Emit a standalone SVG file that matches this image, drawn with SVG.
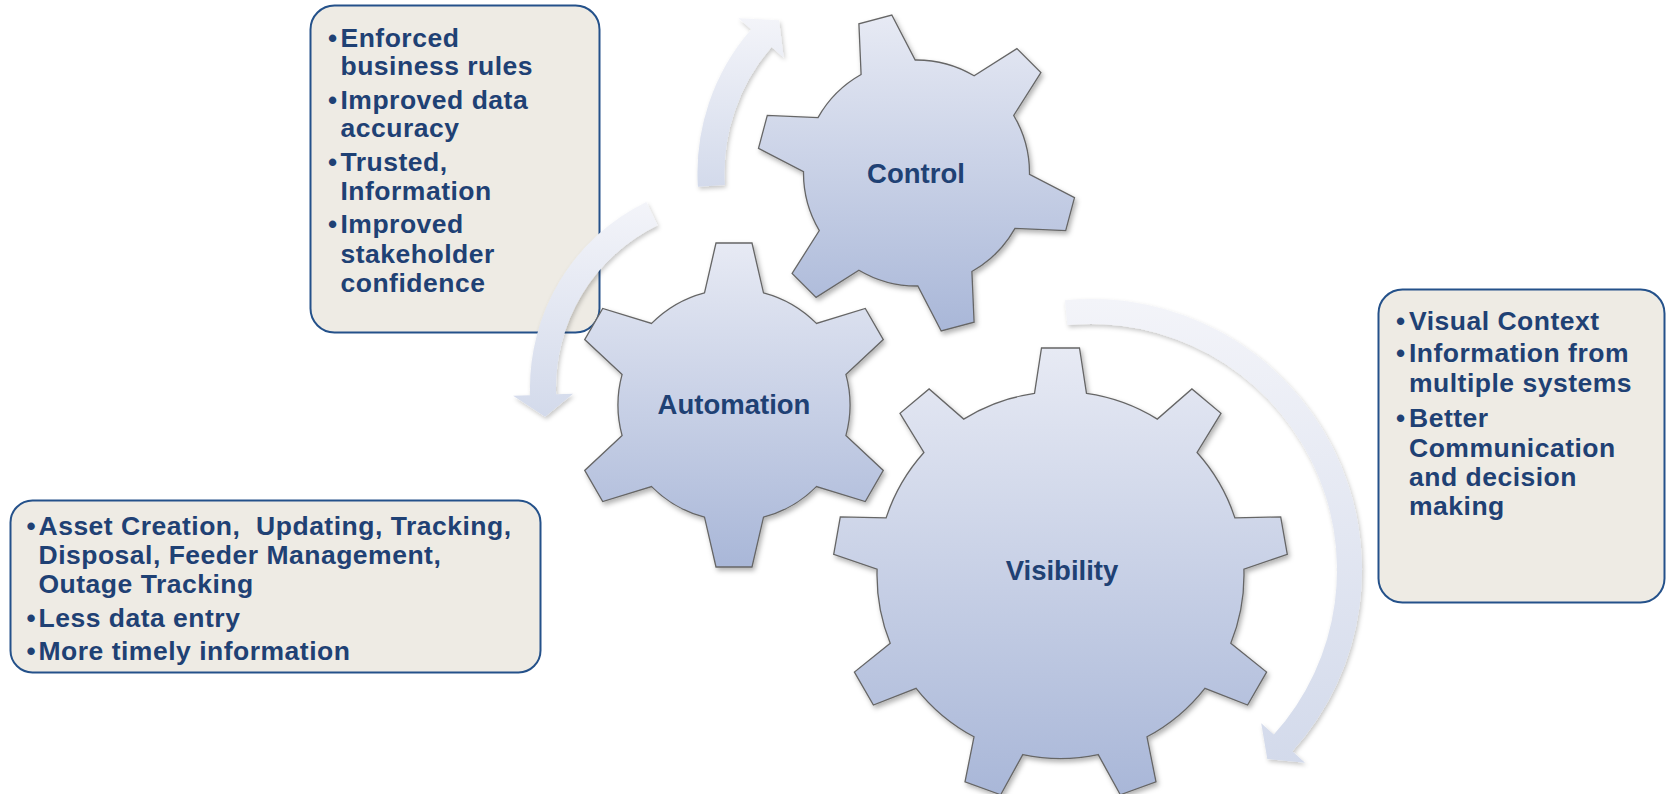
<svg xmlns="http://www.w3.org/2000/svg" width="1667" height="794" viewBox="0 0 1667 794">
<defs>
  <linearGradient id="gearFill" x1="0" y1="0" x2="0" y2="1">
    <stop offset="0" stop-color="#e7eaf4"/>
    <stop offset="1" stop-color="#a9b7d8"/>
  </linearGradient>
  <linearGradient id="arrowFill" x1="0" y1="0" x2="0" y2="1">
    <stop offset="0" stop-color="#f3f4f9"/>
    <stop offset="1" stop-color="#d3daeb"/>
  </linearGradient>
  <filter id="gearShadow" x="-10%" y="-10%" width="125%" height="125%">
    <feDropShadow dx="2" dy="3" stdDeviation="2.5" flood-color="#000" flood-opacity="0.3"/>
  </filter>
  <filter id="arrowShadow" x="-10%" y="-10%" width="125%" height="125%">
    <feDropShadow dx="1.5" dy="2.5" stdDeviation="2" flood-color="#000" flood-opacity="0.22"/>
  </filter>
</defs>
<style>
  .box { fill:#eeebe4; stroke:#24518a; stroke-width:2; }
  .gear { fill:url(#gearFill); stroke:#666; stroke-width:1.3; filter:url(#gearShadow); }
  .arrow { fill:url(#arrowFill); filter:url(#arrowShadow); }
  .lbl { font-family:"Liberation Sans", Arial, sans-serif; font-weight:bold; font-size:27.5px; fill:#1f4174; text-anchor:middle; }
  .bt { font-family:"Liberation Sans", Arial, sans-serif; font-weight:bold; font-size:26.5px; letter-spacing:0.5px; fill:#1f4174; white-space:pre; }
  .bul { font-family:"Liberation Sans", Arial, sans-serif; font-weight:bold; font-size:26px; fill:#1f4174; text-anchor:middle; }
</style>

<g id="box-control">
  <rect class="box" x="310.5" y="5.5" width="289" height="327" rx="24"/>
  <text class="bul" x="332.5" y="46.5">•</text>
  <text class="bt" x="340.5" y="46.5">Enforced</text>
  <text class="bt" x="340.5" y="75">business rules</text>
  <text class="bul" x="332.5" y="108.5">•</text>
  <text class="bt" x="340.5" y="108.5">Improved data</text>
  <text class="bt" x="340.5" y="137">accuracy</text>
  <text class="bul" x="332.5" y="170.5">•</text>
  <text class="bt" x="340.5" y="170.5">Trusted,</text>
  <text class="bt" x="340.5" y="200">Information</text>
  <text class="bul" x="332.5" y="233">•</text>
  <text class="bt" x="340.5" y="233">Improved</text>
  <text class="bt" x="340.5" y="262.5">stakeholder</text>
  <text class="bt" x="340.5" y="291.5">confidence</text>
</g>

<g id="box-automation">
  <rect class="box" x="10.5" y="500.5" width="530" height="172" rx="22"/>
  <text class="bul" x="31" y="535">•</text>
  <text class="bt" x="38.5" y="535" xml:space="preserve">Asset Creation,  Updating, Tracking,</text>
  <text class="bt" x="38.5" y="564">Disposal, Feeder Management,</text>
  <text class="bt" x="38.5" y="593">Outage Tracking</text>
  <text class="bul" x="31" y="627">•</text>
  <text class="bt" x="38.5" y="627">Less data entry</text>
  <text class="bul" x="31" y="660">•</text>
  <text class="bt" x="38.5" y="660">More timely information</text>
</g>

<g id="box-visibility">
  <rect class="box" x="1378.5" y="289.5" width="286" height="313" rx="24"/>
  <text class="bul" x="1400.5" y="330">•</text>
  <text class="bt" x="1409" y="330">Visual Context</text>
  <text class="bul" x="1400.5" y="362">•</text>
  <text class="bt" x="1409" y="362">Information from</text>
  <text class="bt" x="1409" y="392">multiple systems</text>
  <text class="bul" x="1400.5" y="427">•</text>
  <text class="bt" x="1409" y="427">Better</text>
  <text class="bt" x="1409" y="456.5">Communication</text>
  <text class="bt" x="1409" y="486">and decision</text>
  <text class="bt" x="1409" y="515">making</text>
</g>

<g id="gear-control">
  <path class="gear" d="M861.1 74.5 L858.9 23.8 L891.8 15 L915.2 60 A113 113 0 0 1 974.1 75.8 L1016.9 48.6 L1040.9 72.6 L1013.7 115.4 A113 113 0 0 1 1029.5 174.3 L1074.5 197.7 L1065.7 230.6 L1015 228.4 A113 113 0 0 1 971.9 271.5 L974.1 322.2 L941.2 331 L917.8 286 A113 113 0 0 1 858.9 270.2 L816.1 297.4 L792.1 273.4 L819.3 230.6 A113 113 0 0 1 803.5 171.7 L758.5 148.3 L767.3 115.4 L818 117.6 A113 113 0 0 1 861.1 74.5 Z"/>
  <text class="lbl" x="916" y="182.5">Control</text>
</g>

<g id="gear-automation">
  <path class="gear" d="M704.5 292.8 L716 243 L752 243 L763.5 292.8 A116 116 0 0 1 816.4 323.4 L865.3 308.4 L883.3 339.6 L845.9 374.4 A116 116 0 0 1 845.9 435.6 L883.3 470.4 L865.3 501.6 L816.4 486.6 A116 116 0 0 1 763.5 517.2 L752 567 L716 567 L704.5 517.2 A116 116 0 0 1 651.6 486.6 L602.7 501.6 L584.7 470.4 L622.1 435.6 A116 116 0 0 1 622.1 374.4 L584.7 339.6 L602.7 308.4 L651.6 323.4 A116 116 0 0 1 704.5 292.8 Z"/>
  <text class="lbl" x="734" y="413.5">Automation</text>
</g>

<g id="gear-visibility">
  <path class="gear" d="M1034.5 393.4 L1041.5 348 L1079.5 348 L1086.5 393.4 A183.5 183.5 0 0 1 1157.3 419.1 L1191.9 388.9 L1221 413.3 L1197.1 452.5 A183.5 183.5 0 0 1 1234.9 517.9 L1280.7 516.9 L1287.3 554.3 L1243.9 569.1 A183.5 183.5 0 0 1 1230.8 643.3 L1266.6 672.1 L1247.6 705 L1204.9 688.3 A183.5 183.5 0 0 1 1147 736.8 L1156 781.8 L1120.3 794.8 L1098.2 754.6 A183.5 183.5 0 0 1 1022.8 754.6 L1000.7 794.8 L965 781.8 L974 736.8 A183.5 183.5 0 0 1 916.1 688.3 L873.4 705 L854.4 672.1 L890.2 643.3 A183.5 183.5 0 0 1 877.1 569.1 L833.7 554.3 L840.3 516.9 L886.1 517.9 A183.5 183.5 0 0 1 923.9 452.5 L900 413.3 L929.1 388.9 L963.7 419.1 A183.5 183.5 0 0 1 1034.5 393.4 Z"/>
  <text class="lbl" x="1062" y="580">Visibility</text>
</g>

<g id="connectors">
  <path id="arrow-control" class="arrow" d="M724.9 185.1 L697.9 186.8 A219 219 0 0 1 751.2 29.3 L738.4 18.2 L779 20.3 L783.7 57.5 L771.6 47 A192 192 0 0 0 724.9 185.1 Z"/>
  <path id="arrow-automation" class="arrow" d="M657.6 225.3 L646.3 201.9 A207 207 0 0 0 530.1 395.2 L513.1 395.8 L545.1 416.7 L573.1 393.7 L556.1 394.3 A181 181 0 0 1 657.6 225.3 Z"/>
  <path id="arrow-visibility" class="arrow" d="M1067.4 325.1 L1065 300.2 A271 271 0 0 1 1292.4 751.3 L1305 762.7 L1267.3 759.1 L1261.2 723.2 L1273.8 734.6 A246 246 0 0 0 1067.4 325.1 Z"/>
</g>
</svg>
